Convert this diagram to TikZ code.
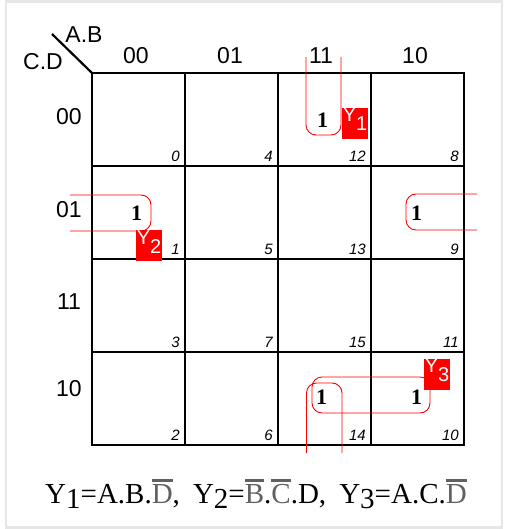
\documentclass[tikz,border=0pt]{standalone}
\usepackage{fontspec}
\setmainfont{Liberation Serif}
\setsansfont{Liberation Sans}
\usetikzlibrary{positioning}
\usepackage{xcolor}
\definecolor{tagred}{HTML}{FF0000}
\definecolor{framegray}{HTML}{E6E6E6}
\newcommand{\negbar}[1]{\textcolor{black!62}{\setbox0\hbox{#1}\rlap{\rule[\dimexpr\ht0+2pt\relax]{\wd0}{2.6pt}}\box0}}
\tikzset{
    gridline/.style={
        draw=black, line width=2.2pt
    },
    grouploop/.style={
        draw=tagred, line width=0.9pt, rounded corners=10pt
    },
    headlabel/.style={
        inner sep=0pt, font=\sffamily\fontsize{23}{23}\selectfont
    },
    cellnum/.style={
        inner sep=0pt, anchor=base east, font=\sffamily\itshape\fontsize{15}{15}\selectfont
    },
    minterm/.style={
        inner sep=0pt, font=\bfseries\fontsize{22}{22}\selectfont
    },
    outtag/.style={
        rectangle, fill=tagred, text=white, inner sep=0pt,
        minimum width=26pt, minimum height=31pt,
        font=\sffamily\fontsize{20}{20}\selectfont
    },
    formula/.style={
        inner sep=0pt, anchor=base, font=\fontsize{29}{29}\selectfont
    }
}

\begin{document}
\begin{tikzpicture}[x=1pt, y=-1pt]

    \useasboundingbox (0,0) rectangle (513,529);
    \draw[framegray, line width=2.6pt] (6,1.5) rectangle (502,527.5);

    % ── Grid ──
    \draw[gridline] (92,73) rectangle (464,445);
    \draw[gridline] (185,73) -- (185,445);
    \draw[gridline] (278,73) -- (278,445);
    \draw[gridline] (371,73) -- (371,445);
    \draw[gridline] (92,166) -- (464,166);
    \draw[gridline] (92,259) -- (464,259);
    \draw[gridline] (92,352) -- (464,352);
    \draw[gridline] (52,34) -- (92,73);

    % ── Variable names and headers ──
    \node[headlabel] (varsAB) at (84,35)   {A.B};
    \node[headlabel] (varsCD) at (43,61.5) {C.D};

    \node[headlabel] (col00) at (136,55.5) {00};
    \node[headlabel] (col01) at (230,55.5) {01};
    \node[headlabel] (col11) at (321,55.5) {11};
    \node[headlabel] (col10) at (415,55.5) {10};

    \node[headlabel] (row00) at (69,116.5) {00};
    \node[headlabel] (row01) at (69,210)   {01};
    \node[headlabel] (row11) at (69,301.5) {11};
    \node[headlabel] (row10) at (69,388.5) {10};

    % ── Cell numbers ──
    \node[cellnum] (m0)  at (180,162) {0};
    \node[cellnum] (m4)  at (273,162) {4};
    \node[cellnum] (m12) at (366,162) {12};
    \node[cellnum] (m8)  at (459,162) {8};
    \node[cellnum] (m1)  at (180,254) {1};
    \node[cellnum] (m5)  at (273,254) {5};
    \node[cellnum] (m13) at (366,254) {13};
    \node[cellnum] (m9)  at (459,254) {9};
    \node[cellnum] (m3)  at (180,347) {3};
    \node[cellnum] (m7)  at (273,347) {7};
    \node[cellnum] (m15) at (366,347) {15};
    \node[cellnum] (m11) at (459,347) {11};
    \node[cellnum] (m2)  at (180,440) {2};
    \node[cellnum] (m6)  at (273,440) {6};
    \node[cellnum] (m14) at (366,440) {14};
    \node[cellnum] (m10) at (459,440) {10};

    % ── Ones ──
    \node[minterm] (one12) at (322.5,120.5) {1};
    \node[minterm] (one1)  at (136.5,213.5) {1};
    \node[minterm] (one9)  at (416.5,213)   {1};
    \node[minterm] (one14) at (321.5,397)   {1};
    \node[minterm] (one10) at (416.5,397)   {1};

    % ── Groups ──
    \draw[grouploop] (306,57) -- (306,135) -- (341,135) -- (341,57);
    \draw[grouploop] (306.5,453) -- (306.5,383) -- (342,383) -- (342,453);
    \draw[grouploop] (70,195) -- (151,195) -- (151,231) -- (70,231);
    \draw[grouploop] (477,194) -- (406,194) -- (406,230) -- (477,230);
    \draw[grouploop] (312,377) rectangle (430,413);

    % ── Output tags ──
    \node[outtag] (tagY1) at (355,123.5) {\raisebox{4pt}[14pt][9pt]{Y\raisebox{-9pt}{1}}};
    \node[outtag] (tagY2) at (149,245.5) {\raisebox{4pt}[14pt][9pt]{Y\raisebox{-9pt}{2}}};
    \node[outtag] (tagY3) at (437,374)   {\raisebox{4pt}[14pt][9pt]{Y\raisebox{-9pt}{3}}};

    % ── Result ──
    \node[formula] (result) at (256,503)
        {Y\raisebox{-5pt}{1}=A.B.\negbar{D},\hspace{0.45em}Y\raisebox{-5pt}{2}=\negbar{B}.\negbar{C}.D,\hspace{0.45em}Y\raisebox{-5pt}{3}=A.C.\negbar{D}};

\end{tikzpicture}
\end{document}
